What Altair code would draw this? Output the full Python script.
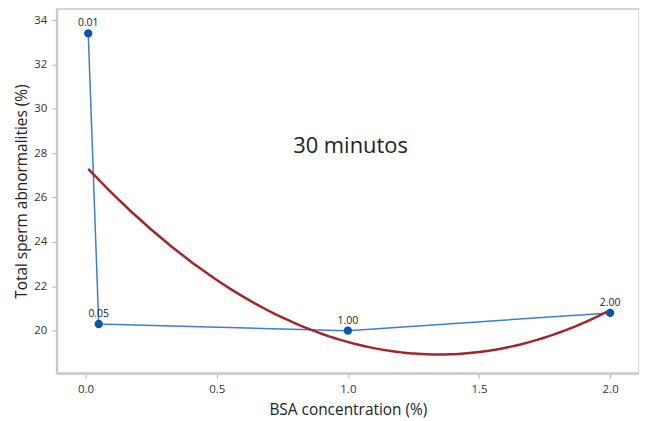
import altair as alt
import pandas as pd

bsa = [0.01, 0.05, 1.00, 2.00]
abnormal = [33.4, 20.3, 20.0, 20.8]
point_labels = ["0.01", "0.05", "1.00", "2.00"]
annotation = "30 minutos"

df = pd.DataFrame({"bsa": bsa, "abn": abnormal, "lab": point_labels})
ann = pd.DataFrame({"x": [1.01], "y": [28.3], "t": [annotation]})

FONT = "Open Sans"
xs = alt.Scale(domain=[-0.11, 2.11], nice=False, zero=False)
ys = alt.Scale(domain=[18.08, 34.5], nice=False, zero=False)

xenc = alt.X("bsa:Q", scale=xs, title="BSA concentration (%)",
             axis=alt.Axis(values=[0.0, 0.5, 1.0, 1.5, 2.0], format=".1f",
                           grid=False, domainColor="#c8c8c8", domainWidth=2,
                           tickColor="#b0b0b0", tickSize=5, labelFontSize=11.5,
                           labelColor="#333333", titleFontSize=15.5, titleColor="#222222",
                           titleFontWeight="normal", titleFont=FONT, labelFont=FONT,
                           titlePadding=8, labelPadding=5))
yenc = alt.Y("abn:Q", scale=ys, title="Total sperm abnormalities (%)",
             axis=alt.Axis(values=[20, 22, 24, 26, 28, 30, 32, 34], grid=False,
                           domainColor="#c8c8c8", domainWidth=2,
                           tickColor="#b0b0b0", tickSize=5, labelFontSize=11.5,
                           labelColor="#333333", titleFontSize=15.5, titleColor="#222222",
                           titleFontWeight="normal", titleFont=FONT, labelFont=FONT,
                           titlePadding=4, labelPadding=5))

base = alt.Chart(df)
line = base.mark_line(color="#3d7fcc", strokeWidth=1.5).encode(x=xenc, y=yenc)
pts = base.mark_point(filled=True, size=70, color="#0a56a8", opacity=1).encode(x="bsa:Q", y="abn:Q")
labels = base.mark_text(dy=-10, fontSize=10.5, font=FONT, color="#222222").encode(
    x="bsa:Q", y="abn:Q", text="lab:N")
fit = base.transform_regression("bsa", "abn", method="poly", order=2, extent=[0.01, 2.0]).mark_line(
    color="#a3262a", strokeWidth=2.5).encode(x="bsa:Q", y="abn:Q")
txt = alt.Chart(ann).mark_text(fontSize=22, font=FONT, color="#222222").encode(
    x="x:Q", y="y:Q", text="t:N")

chart = alt.layer(line, fit, pts, labels, txt).properties(
    width=585, height=366,
    autosize=alt.AutoSizeParams(type="none"),
    padding={"left": 49, "top": 0, "right": 0, "bottom": 46},
).configure_view(stroke="#d4d4d4", strokeWidth=2)

chart.save("out.html", embed_options={"renderer": "svg", "actions": False})
